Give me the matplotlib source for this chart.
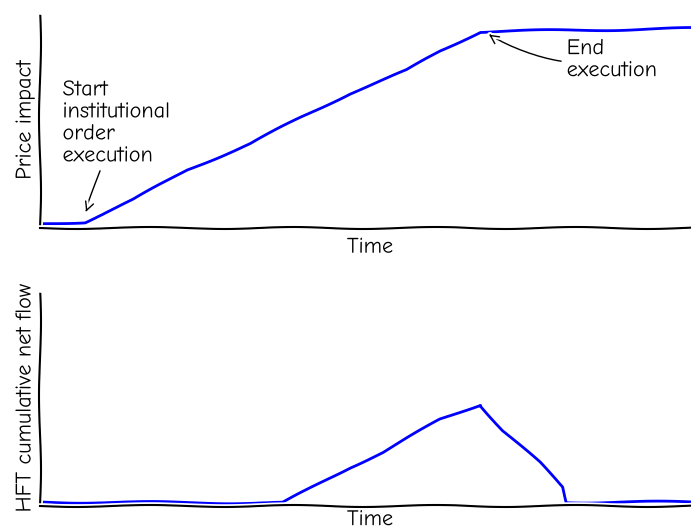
#price impact of an institutional order and HFT net flow, xkcd style

import numpy as np
import matplotlib
matplotlib.use('Agg')
from matplotlib import pyplot as plt

#price impact curve (time, impact)
impact_t = [0.5, 6.8, 14.1, 22.3, 31.8, 39.4, 47.0, 55.6, 60.6, 66.7, 100]
impact_y = [0.02, 0.028, 0.13, 0.27, 0.39, 0.51, 0.625, 0.73, 0.82, 0.91, 0.925]

#hft cumulative net flow (time, flow)
flow_t = [0.5, 36.8, 47.0, 52.0, 60.6, 66.7, 70.1, 75.7, 79.2, 79.8, 100]
flow_y = [0.018, 0.014, 0.18, 0.25, 0.40, 0.47, 0.35, 0.20, 0.088, 0.018, 0.018]

start_label = 'Start\ninstitutional\norder\nexecution'
end_label = 'End\nexecution'

np.random.seed(0)
plt.xkcd(scale=1, length=150, randomness=1.5)
plt.rcParams['font.size'] = 16
fig = plt.figure(figsize=(6.91, 5.29), dpi=100)

ax1 = fig.add_axes([0.058, 0.569, 0.955, 0.408])
ax2 = fig.add_axes([0.058, 0.0435, 0.955, 0.408])

for ax in (ax1, ax2):
    ax.spines['right'].set_color('none')
    ax.spines['top'].set_color('none')
    ax.set_xticks([])
    ax.set_yticks([])
    ax.set_xlim(0, 100)
    ax.set_ylim(0, 1)

ax1.set_xlabel('Time', labelpad=7)
#bottom label sits at the figure edge, keep it just inside
ax2.set_xlabel('Time', labelpad=3)

ax1.plot(impact_t, impact_y, color='blue')
ax1.set_ylabel('Price impact')
ax1.annotate(start_label, xy=(6.8, 0.06), xytext=(3.4, 0.29),
             ha='left', va='bottom',
             arrowprops=dict(arrowstyle='->'))
ax1.annotate(end_label, xy=(67.6, 0.905), xytext=(79.8, 0.685),
             ha='left', va='bottom',
             arrowprops=dict(arrowstyle='->', connectionstyle='arc3,rad=-0.2'))

ax2.plot(flow_t, flow_y, color='blue')
ax2.set_ylabel('HFT cumulative net flow')

plt.savefig('out.png', dpi=100)
